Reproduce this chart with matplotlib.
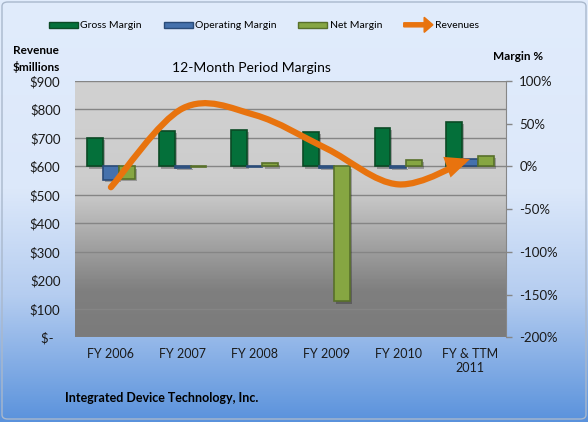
import numpy as np
import matplotlib
matplotlib.use('Agg')
import matplotlib.pyplot as plt
from matplotlib.colors import LinearSegmentedColormap
from matplotlib.patches import Patch, FancyArrowPatch, FancyArrow, FancyBboxPatch
from matplotlib.path import Path
from matplotlib.legend_handler import HandlerPatch
import matplotlib.patheffects as pe

plt.rcParams['font.family'] = ['Lato', 'DejaVu Sans']

# data
years = ['FY 2006', 'FY 2007', 'FY 2008', 'FY 2009', 'FY 2010', 'FY & TTM\n2011']
gross_margin = [33.3, 41.8, 43.0, 40.6, 45.3, 52.4]
operating_margin = [-16.0, -1.5, -1.0, -1.5, -1.5, 8.3]
net_margin = [-15.0, -0.5, 3.6, -158.0, 7.1, 11.8]
revenues = [527, 804, 781, 663, 537, 626]

rev_ticks = [0, 100, 200, 300, 400, 500, 600, 700, 800, 900]
rev_labels = ['$-  ', '$100', '$200', '$300', '$400', '$500', '$600', '$700', '$800', '$900']
margin_ticks = [-200, -150, -100, -50, 0, 50, 100]
margin_labels = ['-200%', '-150%', '-100%', '-50%', '0%', '50%', '100%']

GREEN, GREEN_E = '#04703A', '#0B4A25'
BLUE, BLUE_E = '#4571AC', '#2A4B78'
OLIVE, OLIVE_E = '#86A642', '#58702A'
ORANGE = '#E8730E'

W, H = 588, 422


def fpos(x, y):
    # pixel -> figure fraction
    return x / W, 1 - y / H


def smooth_path(xs, ys):
    # excel style smoothed line as bezier segments
    pts = np.column_stack([xs, ys]).astype(float)
    n = len(pts)
    verts = [pts[0]]
    codes = [Path.MOVETO]
    for i in range(n - 1):
        p_prev = pts[i - 1] if i > 0 else pts[i]
        p_next2 = pts[i + 2] if i + 2 < n else pts[i + 1]
        c1 = pts[i] + (pts[i + 1] - p_prev) / 6
        c2 = pts[i + 1] - (p_next2 - pts[i]) / 6
        verts += [c1, c2, pts[i + 1]]
        codes += [Path.CURVE4] * 3
    return Path(verts, codes)


fig = plt.figure(figsize=(W / 100, H / 100), dpi=100)

# figure background gradient
bg = fig.add_axes([0, 0, 1, 1], zorder=-10)
bg_cmap = LinearSegmentedColormap.from_list(
    'bg', [(0, '#E1ECFC'), (0.45, '#DCE8FA'), (0.7, '#B5CDF0'), (1, '#5A92DC')])
bg.imshow(np.linspace(0, 1, 256).reshape(-1, 1), cmap=bg_cmap, aspect='auto', extent=[0, 1, 0, 1])
bg.set_xlim(0, 1); bg.set_ylim(0, 1)
bg.axis('off')
bg.add_patch(FancyBboxPatch((2 / W, 3 / H), 584 / W, 417 / H, boxstyle='round,pad=0,rounding_size=0.01',
                            transform=bg.transAxes, fc='none', ec='#A9B8CC', lw=1))

ax = fig.add_axes([75 / W, 1 - 337.3 / H, 431 / W, 256.3 / H])
ax.set_facecolor('none')
plot_cmap = LinearSegmentedColormap.from_list(
    'plot', [(0, '#7B7B7B'), (0.18, '#7F7F7F'), (0.55, '#C8C8C8'), (0.62, '#CDCDCD'), (1, '#D1D1D1')])
ax.imshow(np.linspace(0, 1, 256).reshape(-1, 1)[::-1], cmap=plot_cmap, aspect='auto',
          extent=[0, 1, 0, 1], transform=ax.transAxes, zorder=0)

x = np.arange(len(years))
ax.set_xlim(-0.5, len(years) - 0.5)
ax.set_ylim(0, 900)
ax.set_yticks(rev_ticks)
ax.set_yticklabels(rev_labels)
ax.yaxis.grid(True, color='#858585', lw=1)
ax.set_axisbelow(True)
ax.set_xticks(x)
ax.set_xticklabels(years)
ax.tick_params(axis='x', length=0, pad=8, labelsize=9, colors='#1A1A1A')
ax.tick_params(axis='y', length=0, pad=10.5, labelsize=9.5, colors='#1A1A1A')
for s in ax.spines.values():
    s.set_visible(False)

ax2 = ax.twinx()
bw = 0.22
shadow = [pe.SimplePatchShadow(offset=(1.5, -1.5), shadow_rgbFace='k', alpha=0.25), pe.Normal()]
ax2.bar(x - bw, gross_margin, bw, color=GREEN, edgecolor=GREEN_E, lw=1.2, path_effects=shadow, zorder=2)
ax2.bar(x, operating_margin, bw, color=BLUE, edgecolor=BLUE_E, lw=1.2, path_effects=shadow, zorder=2)
ax2.bar(x + bw, net_margin, bw, color=OLIVE, edgecolor=OLIVE_E, lw=1.2, path_effects=shadow, zorder=2)

rev_path = smooth_path(x, revenues)
arrow = FancyArrowPatch(path=rev_path, arrowstyle='-|>,head_length=0.45,head_width=0.2',
                        mutation_scale=22, color=ORANGE, lw=4.5, capstyle='round',
                        joinstyle='miter', transform=ax.transData, zorder=3)
ax2.add_patch(arrow)

ax2.set_ylim(-200, 100)
ax2.set_xlim(-0.5, len(years) - 0.5)
ax2.set_yticks(margin_ticks)
ax2.set_yticklabels(margin_labels)
ax2.tick_params(axis='y', length=4, width=1, pad=5.5, labelsize=9.5, colors='#868686', labelcolor='#1A1A1A')
for k, s in ax2.spines.items():
    s.set_visible(k == 'right')
ax2.spines['right'].set_color('#868686')

# texts
fig.text(*fpos(13, 51), 'Revenue', fontsize=8.5, fontweight='bold', va='center', ha='left')
fig.text(*fpos(13, 67), '$millions', fontsize=8.5, fontweight='bold', va='center', ha='left')
fig.text(*fpos(493, 56), 'Margin %', fontsize=8.5, fontweight='bold', va='center', ha='left')
fig.text(*fpos(251, 68), '12-Month Period Margins', fontsize=10, va='center', ha='center')
fig.text(*fpos(65, 398), 'Integrated Device Technology, Inc.', fontsize=9, fontweight='bold',
         va='center', ha='left')


# legend
def make_arrow(legend, orig_handle, xdescent, ydescent, width, height, fontsize):
    return FancyArrow(-xdescent, height / 2 - ydescent, width, 0, width=height * 0.65,
                      head_width=height * 2.4, head_length=width * 0.3,
                      length_includes_head=True, color=ORANGE, lw=0)


arrow_handle = Patch(color=ORANGE)
handles = [Patch(facecolor=GREEN, edgecolor=GREEN_E, lw=1),
           Patch(facecolor=BLUE, edgecolor=BLUE_E, lw=1),
           Patch(facecolor=OLIVE, edgecolor=OLIVE_E, lw=1),
           arrow_handle]
labels = ['Gross Margin', 'Operating Margin', 'Net Margin', 'Revenues']
fig.legend(handles, labels, loc='center', bbox_to_anchor=fpos(264, 26), ncol=4, frameon=False,
           fontsize=7.5, handlelength=2.8, handleheight=0.55, handletextpad=0.2, columnspacing=2.1,
           handler_map={arrow_handle: HandlerPatch(patch_func=make_arrow)})

fig.savefig('out.png', dpi=100)
